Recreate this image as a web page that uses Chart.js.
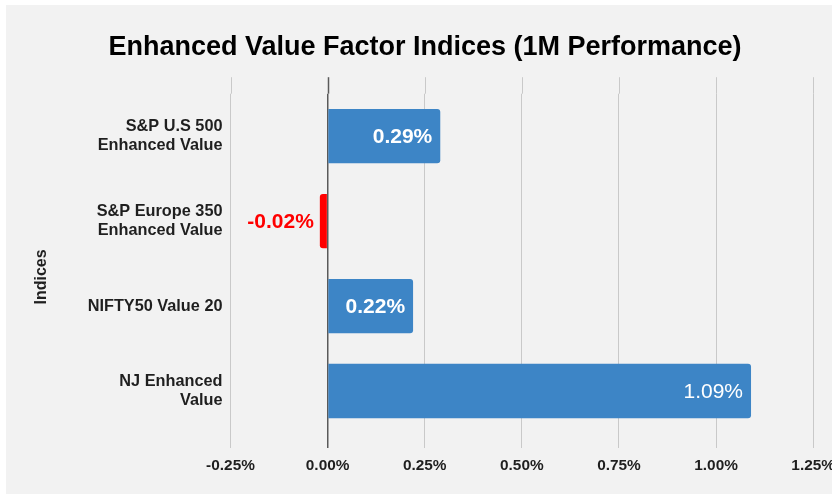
<!DOCTYPE html>
<html>
<head>
<meta charset="utf-8">
<script src="https://cdn.jsdelivr.net/npm/chart.js@4.4.1/dist/chart.umd.min.js"></script>
<style>
  html, body { margin: 0; padding: 0; background: #ffffff; overflow: hidden; width: 832px; height: 494px; }
  #wrap { position: absolute; left: 6px; top: 5px; width: 850px; height: 500px; background: #f2f2f2; }
  canvas { background: #f2f2f2; display: block; }
</style>
</head>
<body>
<div id="wrap"><canvas id="c" width="838" height="489" style="width:838px;height:489px"></canvas></div>
<script>
// ---- data ----
const categories = [
  ['S&P U.S 500', 'Enhanced Value'],
  ['S&P Europe 350', 'Enhanced Value'],
  'NIFTY50 Value 20',
  ['NJ Enhanced', 'Value']
];
const values = [0.29, -0.02, 0.22, 1.09];
const xTicks = [-0.25, 0, 0.25, 0.5, 0.75, 1.0, 1.25];
const chartTitle = 'Enhanced Value Factor Indices (1M Performance)';
const yTitle = 'Indices';

// ---- styles ----
const BLUE = '#3d85c6';
const RED = '#ff0000';
const GRID = '#c9c9c9';
const ZERO = '#5a5a5a';
const labelWeights = ['bold', 'bold', 'bold', 'normal'];

const gridExtend = {
  id: 'gridExtend',
  beforeDatasetsDraw(chart) {
    const {ctx, chartArea, scales: {x}} = chart;
    ctx.save();
    x.ticks.forEach(t => {
      const px = Math.round(x.getPixelForValue(t.value)) + 0.5;
      ctx.strokeStyle = t.value === 0 ? ZERO : GRID;
      ctx.lineWidth = t.value === 0 ? 1.5 : 1;
      ctx.beginPath();
      ctx.moveTo(px, chartArea.top - 16.5);
      ctx.lineTo(px, chartArea.top);
      ctx.stroke();
    });
    ctx.restore();
  }
};

const valueLabels = {
  id: 'valueLabels',
  afterDatasetsDraw(chart) {
    const {ctx} = chart;
    const meta = chart.getDatasetMeta(0);
    ctx.save();
    ctx.textBaseline = 'middle';
    ctx.textAlign = 'right';
    meta.data.forEach((el, i) => {
      const v = values[i];
      const txt = v.toFixed(2) + '%';
      ctx.font = labelWeights[i] + ' 21px "Liberation Sans", Arial, sans-serif';
      if (v >= 0) {
        ctx.fillStyle = '#ffffff';
        ctx.fillText(txt, el.x - 8, el.y + 1);
      } else {
        ctx.fillStyle = RED;
        ctx.fillText(txt, el.x - 6, el.y + 1);
      }
    });
    ctx.restore();
  }
};

new Chart(document.getElementById('c'), {
  type: 'bar',
  data: {
    labels: categories,
    datasets: [{
      data: values,
      backgroundColor: values.map(v => v < 0 ? RED : BLUE),
      borderRadius: 3,
      borderSkipped: 'start',
      barPercentage: 0.64,
      categoryPercentage: 1
    }]
  },
  options: {
    indexAxis: 'y',
    responsive: false,
    animation: false,
    layout: { padding: 0 },
    plugins: {
      legend: { display: false },
      tooltip: { enabled: false },
      title: {
        display: true,
        text: chartTitle,
        color: '#000000',
        font: { family: '"Liberation Sans", Arial, sans-serif', size: 27, weight: 'bold', lineHeight: 1.2 },
        padding: { top: 26.3, bottom: 30 }
      }
    },
    scales: {
      x: {
        type: 'linear',
        min: -0.25,
        max: 1.25,
        afterBuildTicks: s => { s.ticks = xTicks.map(v => ({ value: v })); },
        afterFit: s => { s.height = 60.5; },
        border: { display: false },
        grid: {
          drawTicks: true,
          tickLength: 14.5,
          color: c => (c.tick && c.tick.value === 0) ? ZERO : GRID,
          lineWidth: c => (c.tick && c.tick.value === 0) ? 1.5 : 1
        },
        ticks: {
          padding: 9,
          color: '#1f1f1f',
          font: { family: '"Liberation Sans", Arial, sans-serif', size: 15.4, weight: 'bold' },
          callback: v => Number(v).toFixed(2) + '%'
        }
      },
      y: {
        afterFit: s => { s.width = 224.5; },
        border: { display: false },
        grid: { display: false, drawTicks: false },
        title: {
          display: true,
          text: yTitle + '      ',
          color: '#1f1f1f',
          font: { family: '"Liberation Sans", Arial, sans-serif', size: 16, weight: 'bold', lineHeight: 1.2 },
          padding: { top: 26.4, bottom: 0 }
        },
        ticks: {
          padding: 8,
          color: '#1f1f1f',
          font: { family: '"Liberation Sans", Arial, sans-serif', size: 16.3, weight: 'bold', lineHeight: 1.17 }
        }
      }
    }
  },
  plugins: [gridExtend, valueLabels]
});
</script>
</body>
</html>
